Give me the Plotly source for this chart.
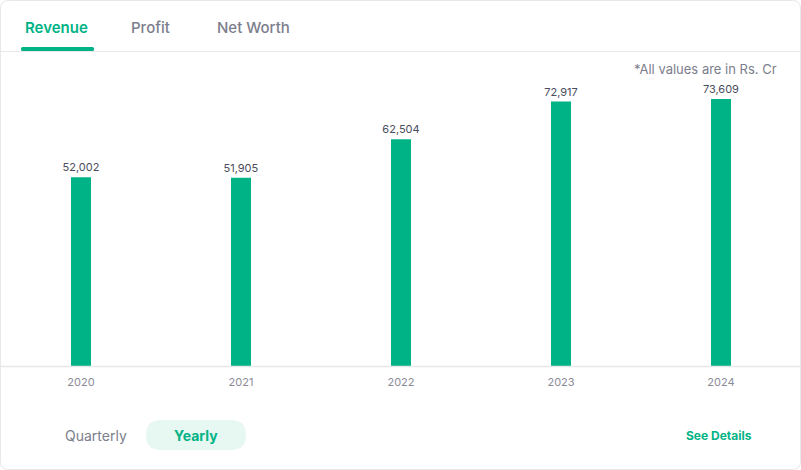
import plotly.graph_objects as go

years = ["2020", "2021", "2022", "2023", "2024"]
revenue = [52002, 51905, 62504, 72917, 73609]

W, H = 801, 470
GREEN = "#00b386"
GRAY = "#7c7e8c"
LINE = "#e8e8eb"
FONT = "Inter, Roboto, sans-serif"

def px(x):
    return x / W

def py(y):
    return 1 - y / H

def rounded_path(x0, y0, x1, y1, r):
    X0, X1 = px(x0), px(x1)
    Y0, Y1 = py(y0), py(y1)
    rx, ry = r / W, r / H
    return (f"M {X0+rx},{Y0} L {X1-rx},{Y0} Q {X1},{Y0} {X1},{Y0-ry} "
            f"L {X1},{Y1+ry} Q {X1},{Y1} {X1-rx},{Y1} "
            f"L {X0+rx},{Y1} Q {X0},{Y1} {X0},{Y1+ry} "
            f"L {X0},{Y0-ry} Q {X0},{Y0} {X0+rx},{Y0} Z")

fig = go.Figure(go.Bar(
    x=years, y=revenue,
    marker=dict(color=GREEN, line=dict(width=0)),
    width=0.125,
    texttemplate="%{y:,}", textposition="outside",
    textfont=dict(size=11, color="#4a4d5e", family=FONT),
    constraintext="none",
    cliponaxis=False,
    hoverinfo="skip",
))

shapes = [
    dict(type="path", xref="paper", yref="paper", path=rounded_path(0.5, 0.5, 800.5, 469.5, 8),
         line=dict(color=LINE, width=1), fillcolor="rgba(0,0,0,0)", layer="below"),
    dict(type="line", xref="paper", yref="paper", x0=px(1), x1=px(800), y0=py(51.5), y1=py(51.5),
         line=dict(color=LINE, width=1)),
    dict(type="line", xref="paper", yref="paper", x0=px(1), x1=px(800), y0=py(366.5), y1=py(366.5),
         line=dict(color=LINE, width=1.5)),
    dict(type="path", xref="paper", yref="paper", path=rounded_path(21, 47, 94, 51, 1.5),
         line=dict(width=0), fillcolor=GREEN),
    dict(type="path", xref="paper", yref="paper", path=rounded_path(146, 420, 246, 450, 15),
         line=dict(width=0), fillcolor="#e7f7f1", layer="below"),
]

def ann(text, x, y, size, color, xanchor="center", weight="normal"):
    return dict(text=text, x=px(x), y=py(y), xref="paper", yref="paper", showarrow=False,
                xanchor=xanchor, yanchor="middle",
                font=dict(size=size, color=color, family=FONT, weight=weight))

annotations = [
    ann("Revenue", 57, 28, 15, GREEN, weight=600),
    ann("Profit", 150, 28, 15, GRAY, weight=500),
    ann("Net Worth", 253, 28, 15, GRAY, weight=500),
    ann("*All values are in Rs. Cr", 779, 69, 13, GRAY, xanchor="right"),
    ann("Quarterly", 96, 435, 14, GRAY),
    ann("Yearly", 196, 435, 14, GREEN, weight=700),
    ann("See Details", 719, 435, 12, GREEN, weight=700),
]

fig.update_layout(
    width=W, height=H,
    margin=dict(l=0, r=0, t=0, b=0),
    paper_bgcolor="white", plot_bgcolor="white",
    showlegend=False,
    shapes=shapes, annotations=annotations,
    font=dict(family=FONT),
    xaxis=dict(domain=[px(1), 1], range=[-0.5, 4.5], type="category",
               showgrid=False, zeroline=False, showline=False,
               ticks="outside", ticklen=6, tickcolor="rgba(0,0,0,0)",
               tickfont=dict(size=11, color="#8a8c99", family=FONT)),
    yaxis=dict(domain=[py(366), py(60)], range=[0, 84360], visible=False),
)

fig.write_html("out.html")
